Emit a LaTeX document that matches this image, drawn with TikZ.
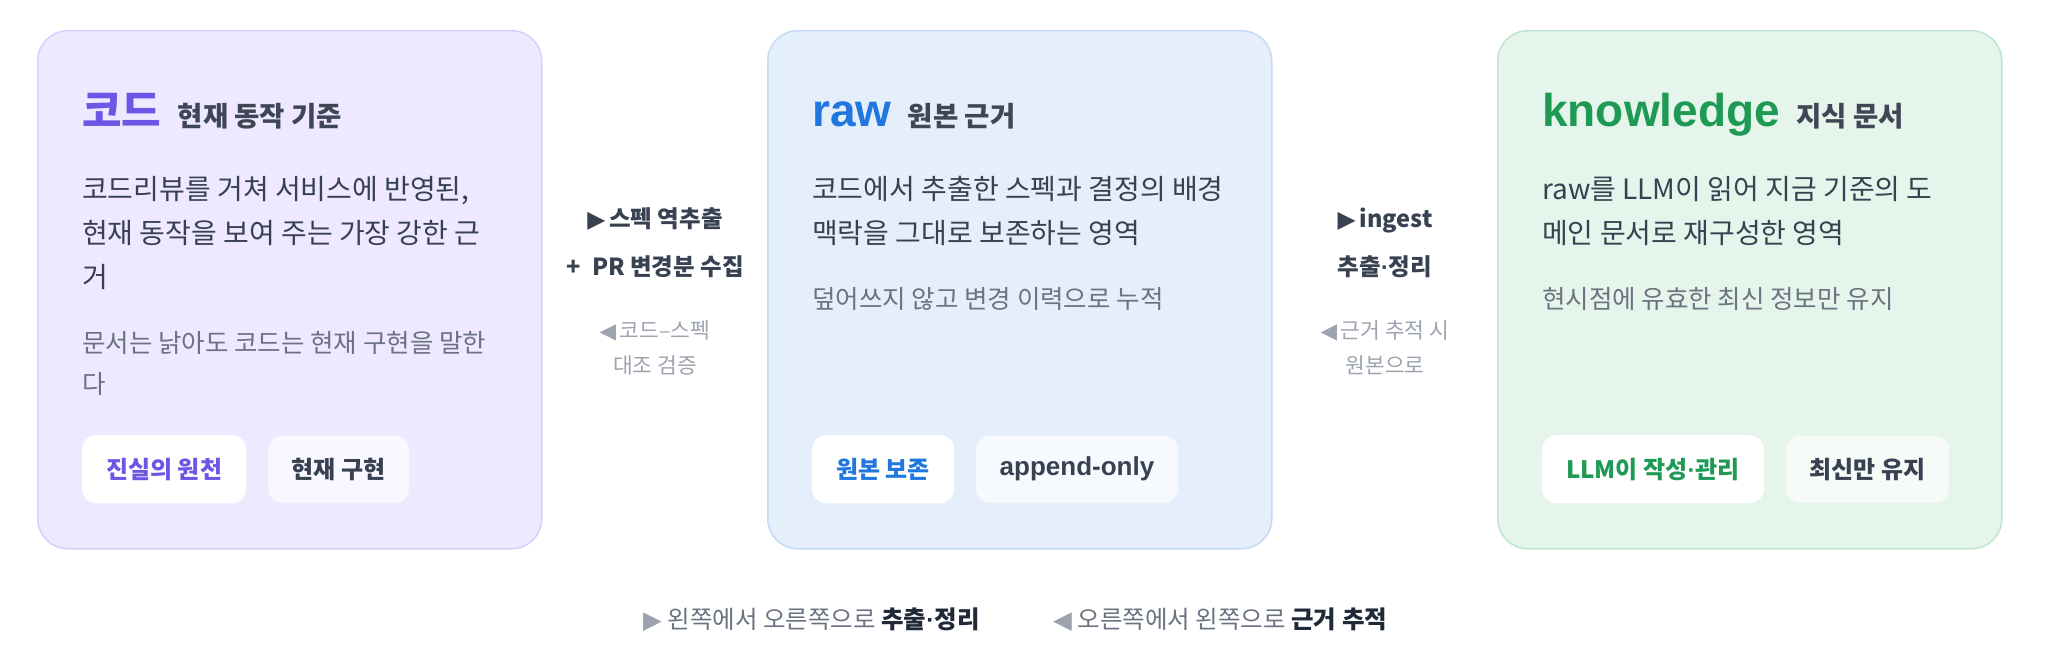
\documentclass[tikz,border=0pt]{standalone}
\usepackage{fontspec}
\usepackage{xcolor}
\setmainfont{Noto Sans CJK KR}
\newfontfamily\latinfont{Liberation Sans}
\newfontfamily\symfont{DejaVu Sans}
\newcommand{\middot}{{\latinfont ·}}

\definecolor{codefill}{HTML}{EEE9FE}
\definecolor{codeline}{HTML}{D8CFFB}
\definecolor{codeaccent}{HTML}{6B56E6}
\definecolor{rawfill}{HTML}{E5EFFC}
\definecolor{rawline}{HTML}{C3DAF6}
\definecolor{rawaccent}{HTML}{1F77DF}
\definecolor{knowfill}{HTML}{E5F5EC}
\definecolor{knowline}{HTML}{BEE5CD}
\definecolor{knowaccent}{HTML}{1F9A55}
\definecolor{bodytext}{HTML}{374151}
\definecolor{subtext}{HTML}{3F4756}
\definecolor{notetext}{HTML}{6B7280}
\definecolor{hinttext}{HTML}{9CA3AF}
\definecolor{darktext}{HTML}{1F2937}

\usetikzlibrary{positioning}

\begin{document}
\begin{tikzpicture}[x=1pt, y=-1pt]
        % Define styles
        \tikzset{
            card/.style={draw, line width=1.5pt, rounded corners=30pt, minimum width=504pt, minimum height=518pt, anchor=north west, inner sep=0pt},
            headline/.style={anchor=base west, inner sep=0pt, font=\bfseries\fontsize{46}{46}\selectfont},
            subhead/.style={anchor=base west, inner sep=0pt, text=subtext, font=\bfseries\fontsize{27.5}{27.5}\selectfont},
            body/.style={anchor=base west, inner sep=0pt, text=bodytext, font=\fontsize{28}{28}\selectfont},
            remark/.style={anchor=base west, inner sep=0pt, text=notetext, font=\fontsize{25.5}{25.5}\selectfont},
            chip/.style={anchor=north west, rounded corners=14pt, minimum height=68pt, inner xsep=24pt, inner ysep=0pt, fill=white, font=\bfseries\fontsize{24}{24}\selectfont},
            plainchip/.style={chip, text=bodytext, line width=1pt},
            flowtext/.style={anchor=base, inner sep=0pt, text=bodytext, font=\bfseries\fontsize{23.5}{23.5}\selectfont},
            hinttext/.style={anchor=base, inner sep=0pt, text=hinttext, font=\fontsize{21.5}{21.5}\selectfont},
            foot/.style={anchor=base west, inner sep=0pt, text=notetext, font=\fontsize{24.5}{24.5}\selectfont}
        }
        \useasboundingbox (0,0) rectangle (2048,663);

        % Cards
        \node[card, fill=codefill, draw=codeline] (code_card) at (37,30) {};
        \node[card, fill=rawfill, draw=rawline] (raw_card) at (767,30) {};
        \node[card, fill=knowfill, draw=knowline] (know_card) at (1497,30) {};

        % code
        \node[headline, text=codeaccent, font=\bfseries\fontsize{43}{43}\selectfont] (code_title) at (82,127) {코드};
        \node[subhead, right=16pt of code_title.base east, anchor=base west] (code_sub) {현재 동작 기준};
        \node[body] (code_body_1) at (82,200) {코드리뷰를 거쳐 서비스에 반영된,};
        \node[body] (code_body_2) at (82,243.5) {현재 동작을 보여 주는 가장 강한 근};
        \node[body] (code_body_3) at (82,287) {거};
        \node[remark] (code_note_1) at (82,352) {문서는 낡아도 코드는 현재 구현을 말한};
        \node[remark] (code_note_2) at (82,393) {다};
        \node[chip, text=codeaccent] (code_chip_1) at (82,435) {진실의 원천};
        \node[plainchip, fill=white!65!codefill, draw=white!60!codeline, right=21pt of code_chip_1] (code_chip_2) {현재 구현};

        % raw
        \node[headline, text=rawaccent] (raw_title) at (812,127) {\latinfont raw};
        \node[subhead, right=16pt of raw_title.base east, anchor=base west] (raw_sub) {원본 근거};
        \node[body] (raw_body_1) at (812,200) {코드에서 추출한 스펙과 결정의 배경};
        \node[body] (raw_body_2) at (812,243.5) {맥락을 그대로 보존하는 영역};
        \node[remark] (raw_note) at (812,308) {덮어쓰지 않고 변경 이력으로 누적};
        \node[chip, text=rawaccent] (raw_chip_1) at (812,435) {원본 보존};
        \node[plainchip, fill=white!65!rawfill, draw=white!60!rawline, right=21pt of raw_chip_1] (raw_chip_2) {\latinfont\fontsize{26}{26}\selectfont append-only};

        % knowledge
        \node[headline, text=knowaccent] (know_title) at (1542,127) {\latinfont knowledge};
        \node[subhead, right=16pt of know_title.base east, anchor=base west] (know_sub) {지식 문서};
        \node[body] (know_body_1) at (1542,200) {raw를 LLM이 읽어 지금 기준의 도};
        \node[body] (know_body_2) at (1542,243.5) {메인 문서로 재구성한 영역};
        \node[remark] (know_note) at (1542,308) {현시점에 유효한 최신 정보만 유지};
        \node[chip, text=knowaccent] (know_chip_1) at (1542,435) {LLM이 작성\middot 관리};
        \node[plainchip, fill=white!65!knowfill, draw=white!60!knowline, right=21pt of know_chip_1] (know_chip_2) {최신만 유지};

        % between code and raw
        \node[flowtext] (code_raw_1) at (655,228) {{\symfont ▶}\,스펙 역추출};
        \node[flowtext] (code_raw_2) at (655,275) {+\hspace{0.5em}PR 변경분 수집};
        \node[hinttext] (code_raw_3) at (655,338) {{\symfont ◀}\,코드–스펙};
        \node[hinttext] (code_raw_4) at (655,373) {대조 검증};

        % between raw and knowledge
        \node[flowtext] (raw_know_1) at (1385,228) {{\symfont ▶}\,ingest};
        \node[flowtext] (raw_know_2) at (1385,275) {추출\middot 정리};
        \node[hinttext] (raw_know_3) at (1385,338) {{\symfont ◀}\,근거 추적 시};
        \node[hinttext] (raw_know_4) at (1385,373) {원본으로};

        % Footnote
        \node[foot] (legend_right) at (643,628) {\textcolor{hinttext}{\symfont ▶} 왼쪽에서 오른쪽으로 \textcolor{darktext}{\bfseries 추출\middot 정리}};
        \node[foot] (legend_left) at (1053,628) {\textcolor{hinttext}{\symfont ◀} 오른쪽에서 왼쪽으로 \textcolor{darktext}{\bfseries 근거 추적}};
    \end{tikzpicture}
\end{document}
